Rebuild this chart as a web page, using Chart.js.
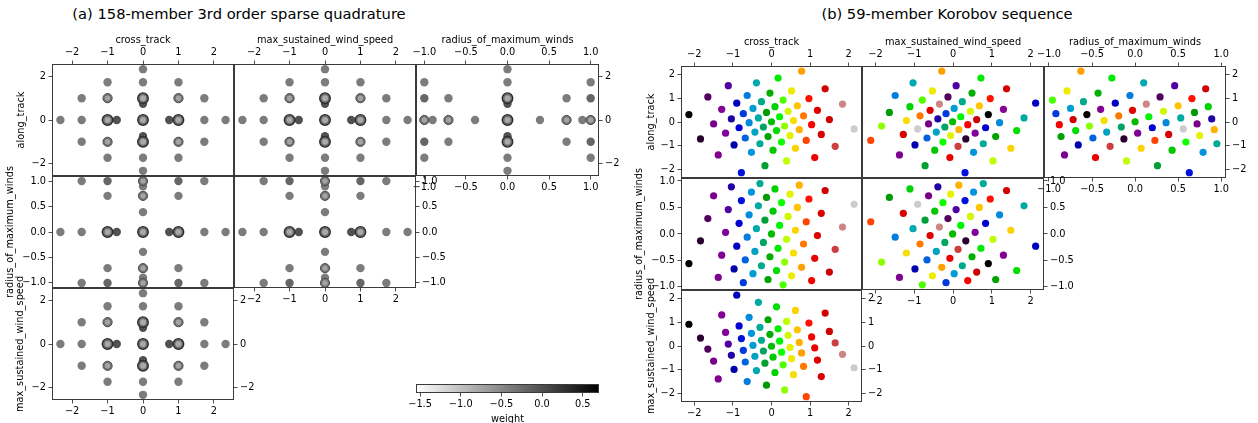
<!DOCTYPE html>
<html>
<head>
<meta charset="utf-8">
<script src="https://cdn.jsdelivr.net/npm/chart.js@4.4.1/dist/chart.umd.min.js"></script>
<style>
  body { margin: 0; width: 1258px; height: 423px; overflow: hidden; position: relative; background: #fff; font-family: "DejaVu Sans", sans-serif; }
  canvas { position: absolute; }
  .suptitle { position: absolute; top: 4px; font-size: 14.7px; line-height: 19px; color: #000; white-space: nowrap; transform: translateX(-50%); }
</style>
</head>
<body>
<div class="suptitle" style="left:239px">(a) 158-member 3rd order sparse quadrature</div>
<div class="suptitle" style="left:947px">(b) 59-member Korobov sequence</div>
<script>
// ---- (a) sparse quadrature, 2-D projections ----
// pair of gaussian dims (cross/along, wind/along, cross/wind)
var pairPlainX = [0, 0, 0, 0, -1, 1, -1, 1, -1.73, -1.73, -1.73, 1.73, 1.73, 1.73, -2.33, 2.33];
var pairPlainY = [2.33, 1.73, -1.73, -2.33, 1.73, 1.73, -1.73, -1.73, 1, 0, -1, 1, 0, -1, 0, 0];
var pairDarkX = [0, 0, -0.74, 0.74];
var pairDarkY = [0.74, -0.74, 0, 0];
var pairRingX = [-1, 1, -1, 1];
var pairRingY = [1, 1, -1, -1];
var pairHubX = [0, 0, -1, 1, 0];
var pairHubY = [1, -1, 0, 0, 0];

// gaussian dim vs radius_of_maximum_winds (g, r)
var radPlainG = [0, 0, 0, 0, -1.73, -1.73, 1.73, 1.73, -1, -1, 1, 1, -2.33, 2.33, -1.73, 1.73];
var radPlainR = [0.9, -0.9, 0.39, -0.39, 1, -1, 1, -1, 0.71, -0.71, 0.71, -0.71, 0, 0, 0, 0];
var radDarkerG = [-1, -1, 1, 1];
var radDarkerR = [1, -1, 1, -1];
var radDarkG = [-0.74, 0.74];
var radDarkR = [0, 0];
var radRingG = [0, 0, 0, 0];
var radRingR = [0.71, -0.71, 1, -1];
var radHubG = [-1, 1, 0];
var radHubR = [0, 0, 0];

var weightTicks = [-1.5, -1.0, -0.5, 0.0, 0.5];

// ---- (b) Korobov sequence, 59 members ----
var crossTrack = [-2.14, -1.84, -1.65, -1.50, -1.38, -1.29, -1.19, -1.12, -1.04, -0.97,
  -0.90, -0.84, -0.78, -0.73, -0.68, -0.63, -0.58, -0.52, -0.48, -0.43,
  -0.39, -0.34, -0.30, -0.26, -0.21, -0.17, -0.13, -0.09, -0.04, 0.00,
  0.04, 0.09, 0.13, 0.17, 0.21, 0.26, 0.30, 0.34, 0.39, 0.43,
  0.48, 0.52, 0.57, 0.62, 0.67, 0.72, 0.78, 0.83, 0.90, 0.97,
  1.04, 1.12, 1.19, 1.29, 1.39, 1.50, 1.65, 1.84, 2.14];
var alongTrack = [0.31, -0.71, 1.05, -0.08, -1.38, 0.53, -0.47, 1.52, 0.13, -0.96,
  0.79, -0.24, -2.12, 0.35, -0.67, 1.11, -0.03, -1.27, 0.57, -0.42,
  1.64, 0.17, -0.91, 0.85, -0.21, -1.83, 0.40, -0.61, 1.21, 0.01,
  -1.18, 0.64, -0.36, 1.84, 0.22, -0.84, 0.92, -0.17, -1.63, 0.45,
  -0.57, 1.30, 0.06, -1.10, 0.68, -0.32, 2.13, 0.26, -0.77, 0.98,
  -0.11, -1.49, 0.49, -0.52, 1.39, 0.10, -1.02, 0.75, -0.29];
var maxWind = [0.91, 0.33, -0.13, -0.63, -1.38, 1.30, 0.57, 0.08, -0.39, -0.98,
  2.13, 0.84, 0.31, -0.18, -0.67, -1.49, 1.20, 0.53, 0.03, -0.43,
  -1.03, 1.83, 0.78, 0.24, -0.21, -0.72, -1.64, 1.10, 0.49, -0.01,
  -0.47, -1.11, 1.64, 0.72, 0.20, -0.26, -0.79, -1.84, 1.03, 0.45,
  -0.06, -0.53, -1.20, 1.49, 0.68, 0.15, -0.29, -0.85, -2.12, 0.96,
  0.38, -0.08, -0.59, -1.28, 1.38, 0.61, 0.13, -0.35, -0.91];
var radiusMax = [-0.56, -0.13, 0.29, 0.72, -0.82, -0.40, 0.03, 0.46, 0.89, -0.66,
  -0.23, 0.20, 0.63, -0.92, -0.49, -0.06, 0.36, 0.79, -0.75, -0.33,
  0.10, 0.53, 0.95, -0.60, -0.16, 0.26, 0.69, -0.86, -0.43, 0.00,
  0.43, 0.85, -0.69, -0.27, 0.16, 0.59, -0.96, -0.53, -0.10, 0.33,
  0.75, -0.79, -0.36, 0.07, 0.50, 0.92, -0.63, -0.19, 0.23, 0.66,
  -0.88, -0.46, -0.03, 0.39, 0.82, -0.72, -0.29, 0.13, 0.56];

var gaussTicks = [-2, -1, 0, 1, 2];
var gaussTicksA = [-2, 0, 2];
var radTicks = [-1, -0.5, 0, 0.5, 1];

// nipy_spectral control points (t, r, g, b)
var nipyStops = [[0, 0, 0, 0], [0.05, .4667, 0, .5333], [0.10, .5333, 0, .6], [0.15, 0, 0, .6667],
  [0.20, 0, 0, .8667], [0.25, 0, .4667, .8667], [0.30, 0, .6, .8667], [0.35, 0, .6667, .6667],
  [0.40, 0, .6667, .5333], [0.45, 0, .6, 0], [0.50, 0, .7333, 0], [0.55, 0, .8667, 0],
  [0.60, 0, 1, 0], [0.65, .7333, 1, 0], [0.70, .9333, .9333, 0], [0.75, 1, .8, 0],
  [0.80, 1, .6, 0], [0.85, 1, 0, 0], [0.90, .8667, 0, 0], [0.95, .8, 0, 0], [1, .8, .8, .8]];

function nipy(t) {
  for (var k = 1; k < nipyStops.length; k++) {
    var b = nipyStops[k];
    if (t <= b[0] + 1e-9) {
      var a = nipyStops[k - 1], f = (t - a[0]) / (b[0] - a[0]);
      var c = [1, 2, 3].map(function (j) { return Math.round(255 * (a[j] + f * (b[j] - a[j]))); });
      return 'rgb(' + c.join(',') + ')';
    }
  }
  return 'rgb(204,204,204)';
}
var colorsB = crossTrack.map(function (_, i) { return nipy(i / (crossTrack.length - 1)); });

var PAD = 50;
var FONT = {family: "'DejaVu Sans', sans-serif", size: 9.8};

function fmt(dec) {
  return function (v) { return Number(v).toFixed(dec).replace('-', '\u2212'); };
}

function axis(pos, lim, ticks, dec, spec) {
  var on = !!spec;
  var horiz = pos === 'top' || pos === 'bottom';
  var pad = (spec && spec.pad) || 0;
  return {
    type: 'linear', position: pos, min: lim[0], max: lim[1], bounds: 'data',
    afterBuildTicks: function (s) { s.ticks = ticks.map(function (v) { return {value: v}; }); },
    afterFit: function (s) { if (horiz) s.height = PAD; else s.width = PAD; },
    border: {display: false},
    grid: {display: on, drawOnChartArea: false, drawTicks: on, tickLength: 3.5, tickColor: '#222', tickWidth: 0.8, color: '#222'},
    ticks: {display: on, autoSkip: false, maxRotation: 0, minRotation: 0, padding: 2.5, color: '#000', font: FONT, callback: fmt(dec)},
    title: {display: !!(spec && spec.title), text: (spec && spec.title) || '', color: '#000', font: FONT,
      padding: {top: pad, bottom: pad}}
  };
}

// Cadre autour de chaque sous-graphe
var framePlugin = {
  id: 'frame',
  afterDatasetsDraw: function (chart) {
    var a = chart.chartArea, ctx = chart.ctx;
    ctx.save();
    ctx.strokeStyle = '#3a3a3a';
    ctx.lineWidth = 1;
    ctx.strokeRect(a.left + 0.5, a.top + 0.5, a.right - a.left - 1, a.bottom - a.top - 1);
    ctx.restore();
  }
};

// Barre de couleur (gray_r)
var gradientPlugin = {
  id: 'cbar',
  beforeDatasetsDraw: function (chart) {
    var a = chart.chartArea, ctx = chart.ctx;
    var g = ctx.createLinearGradient(a.left, 0, a.right, 0);
    g.addColorStop(0, '#ffffff');
    g.addColorStop(1, '#000000');
    ctx.save();
    ctx.fillStyle = g;
    ctx.fillRect(a.left, a.top, a.right - a.left, a.bottom - a.top);
    ctx.strokeStyle = '#3a3a3a';
    ctx.lineWidth = 1;
    ctx.strokeRect(a.left + 0.5, a.top + 0.5, a.right - a.left - 1, a.bottom - a.top - 1);
    ctx.restore();
  }
};

function plot(o) {
  var w = o.box[2] - o.box[0], h = o.box[3] - o.box[1];
  var cv = document.createElement('canvas');
  cv.width = w + 2 * PAD;
  cv.height = h + 2 * PAD;
  cv.style.left = (o.box[0] - PAD) + 'px';
  cv.style.top = (o.box[1] - PAD) + 'px';
  document.body.appendChild(cv);
  var ax = o.axes || {};
  return new Chart(cv, {
    type: 'scatter',
    data: {datasets: o.datasets || []},
    options: {
      responsive: false, animation: false, events: [], devicePixelRatio: 1,
      layout: {padding: 0},
      plugins: {legend: {display: false}, tooltip: {enabled: false}},
      scales: {
        x: axis('bottom', o.xlim, o.xticks, o.xdec, ax.bottom),
        xt: axis('top', o.xlim, o.xticks, o.xdec, ax.top),
        y: axis('left', o.ylim, o.yticks, o.ydec, ax.left),
        yr: axis('right', o.ylim, o.yticks, o.ydec, ax.right)
      }
    },
    plugins: [o.cbar ? gradientPlugin : framePlugin]
  });
}

function pts(xs, ys) {
  return xs.map(function (x, i) { return {x: x, y: ys[i]}; });
}

function ds(data, r, bg, bc, bw) {
  return {data: data, pointRadius: r, backgroundColor: bg, borderColor: bc || bg, borderWidth: bw || 0, clip: 0};
}

// q = [plain, darker, dark, ring, hub] point lists; first dataset is drawn on top
function quadSets(q) {
  return [
    ds(q[4], 3.0, '#a9a9a9'),
    ds(q[4], 5.3, '#6c6c6c', '#2b2b2b', 1.3),
    ds(q[3], 2.7, '#a3a3a3'),
    ds(q[3], 4.6, '#727272', '#4a4a4a', 1),
    ds(q[2], 4.2, '#515151'),
    ds(q[1], 4.2, '#666666'),
    ds(q[0], 4.2, '#7c7c7c')
  ];
}

var pairQ = [pts(pairPlainX, pairPlainY), [], pts(pairDarkX, pairDarkY), pts(pairRingX, pairRingY), pts(pairHubX, pairHubY)];
var radQ = [pts(radPlainG, radPlainR), pts(radDarkerG, radDarkerR), pts(radDarkG, radDarkR), pts(radRingG, radRingR), pts(radHubG, radHubR)];
var radQT = [pts(radPlainR, radPlainG), pts(radDarkerR, radDarkerG), pts(radDarkR, radDarkG), pts(radRingR, radRingG), pts(radHubR, radHubG)];

// ---- panel (a) ----
var colsA = [52, 234, 416, 599], rowsA = [64, 176, 288, 400];
var gA = [-2.567, 2.567], rA = [-1.1, 1.1];
function boxA(r, c) { return [colsA[c], rowsA[r], colsA[c + 1], rowsA[r + 1]]; }

plot({box: boxA(0, 0), xlim: gA, ylim: gA, xticks: gaussTicks, yticks: gaussTicksA, xdec: 0, ydec: 0,
  axes: {top: {title: 'cross_track', pad: 20.6}, left: {title: 'along_track', pad: 13.9}}, datasets: quadSets(pairQ)});
plot({box: boxA(0, 1), xlim: gA, ylim: gA, xticks: gaussTicks, yticks: gaussTicksA, xdec: 0, ydec: 0,
  axes: {top: {title: 'max_sustained_wind_speed', pad: 20.6}}, datasets: quadSets(pairQ)});
plot({box: boxA(0, 2), xlim: rA, ylim: gA, xticks: radTicks, yticks: gaussTicksA, xdec: 1, ydec: 0,
  axes: {top: {title: 'radius_of_maximum_winds', pad: 20.6}, right: {}, bottom: {}}, datasets: quadSets(radQT)});
plot({box: boxA(1, 0), xlim: gA, ylim: rA, xticks: gaussTicks, yticks: radTicks, xdec: 0, ydec: 1,
  axes: {left: {title: 'radius_of_maximum_winds', pad: 2.1}}, datasets: quadSets(radQ)});
plot({box: boxA(1, 1), xlim: gA, ylim: rA, xticks: gaussTicks, yticks: radTicks, xdec: 0, ydec: 1,
  axes: {right: {}, bottom: {}}, datasets: quadSets(radQ)});
plot({box: boxA(2, 0), xlim: gA, ylim: gA, xticks: gaussTicks, yticks: gaussTicksA, xdec: 0, ydec: 0,
  axes: {left: {title: 'max_sustained_wind_speed', pad: 12.4}, right: {}, bottom: {}}, datasets: quadSets(pairQ)});
plot({box: [416, 384, 599, 393], xlim: [-1.55, 0.70], ylim: [0, 1], xticks: weightTicks, yticks: [], xdec: 1, ydec: 0,
  axes: {bottom: {title: 'weight', pad: 18.1}}, cbar: true});

// ---- panel (b) ----
var colsB = [681, 862, 1044, 1226], rowsB = [66, 178, 290, 402];
var gB = [-2.345, 2.345], rB = [-1.058, 1.056];
function boxB(r, c) { return [colsB[c], rowsB[r], colsB[c + 1], rowsB[r + 1]]; }
function korobov(xs, ys) {
  return [{data: pts(xs, ys), pointRadius: 3.6, backgroundColor: colorsB, borderWidth: 0, clip: 0}];
}

plot({box: boxB(0, 0), xlim: gB, ylim: gB, xticks: gaussTicks, yticks: gaussTicks, xdec: 0, ydec: 0,
  axes: {top: {title: 'cross_track', pad: 20.6}, left: {title: 'along_track', pad: 14.1}}, datasets: korobov(crossTrack, alongTrack)});
plot({box: boxB(0, 1), xlim: gB, ylim: gB, xticks: gaussTicks, yticks: gaussTicks, xdec: 0, ydec: 0,
  axes: {top: {title: 'max_sustained_wind_speed', pad: 20.6}}, datasets: korobov(maxWind, alongTrack)});
plot({box: boxB(0, 2), xlim: rB, ylim: gB, xticks: radTicks, yticks: gaussTicks, xdec: 1, ydec: 0,
  axes: {top: {title: 'radius_of_maximum_winds', pad: 20.6}, right: {}, bottom: {}}, datasets: korobov(radiusMax, alongTrack)});
plot({box: boxB(1, 0), xlim: gB, ylim: rB, xticks: gaussTicks, yticks: radTicks, xdec: 0, ydec: 1,
  axes: {left: {title: 'radius_of_maximum_winds', pad: 2.1}}, datasets: korobov(crossTrack, radiusMax)});
plot({box: boxB(1, 1), xlim: gB, ylim: rB, xticks: gaussTicks, yticks: radTicks, xdec: 0, ydec: 1,
  axes: {right: {}, bottom: {}}, datasets: korobov(maxWind, radiusMax)});
plot({box: boxB(2, 0), xlim: gB, ylim: gB, xticks: gaussTicks, yticks: gaussTicks, xdec: 0, ydec: 0,
  axes: {left: {title: 'max_sustained_wind_speed', pad: 14.1}, right: {}, bottom: {}}, datasets: korobov(crossTrack, maxWind)});
</script>
</body>
</html>
